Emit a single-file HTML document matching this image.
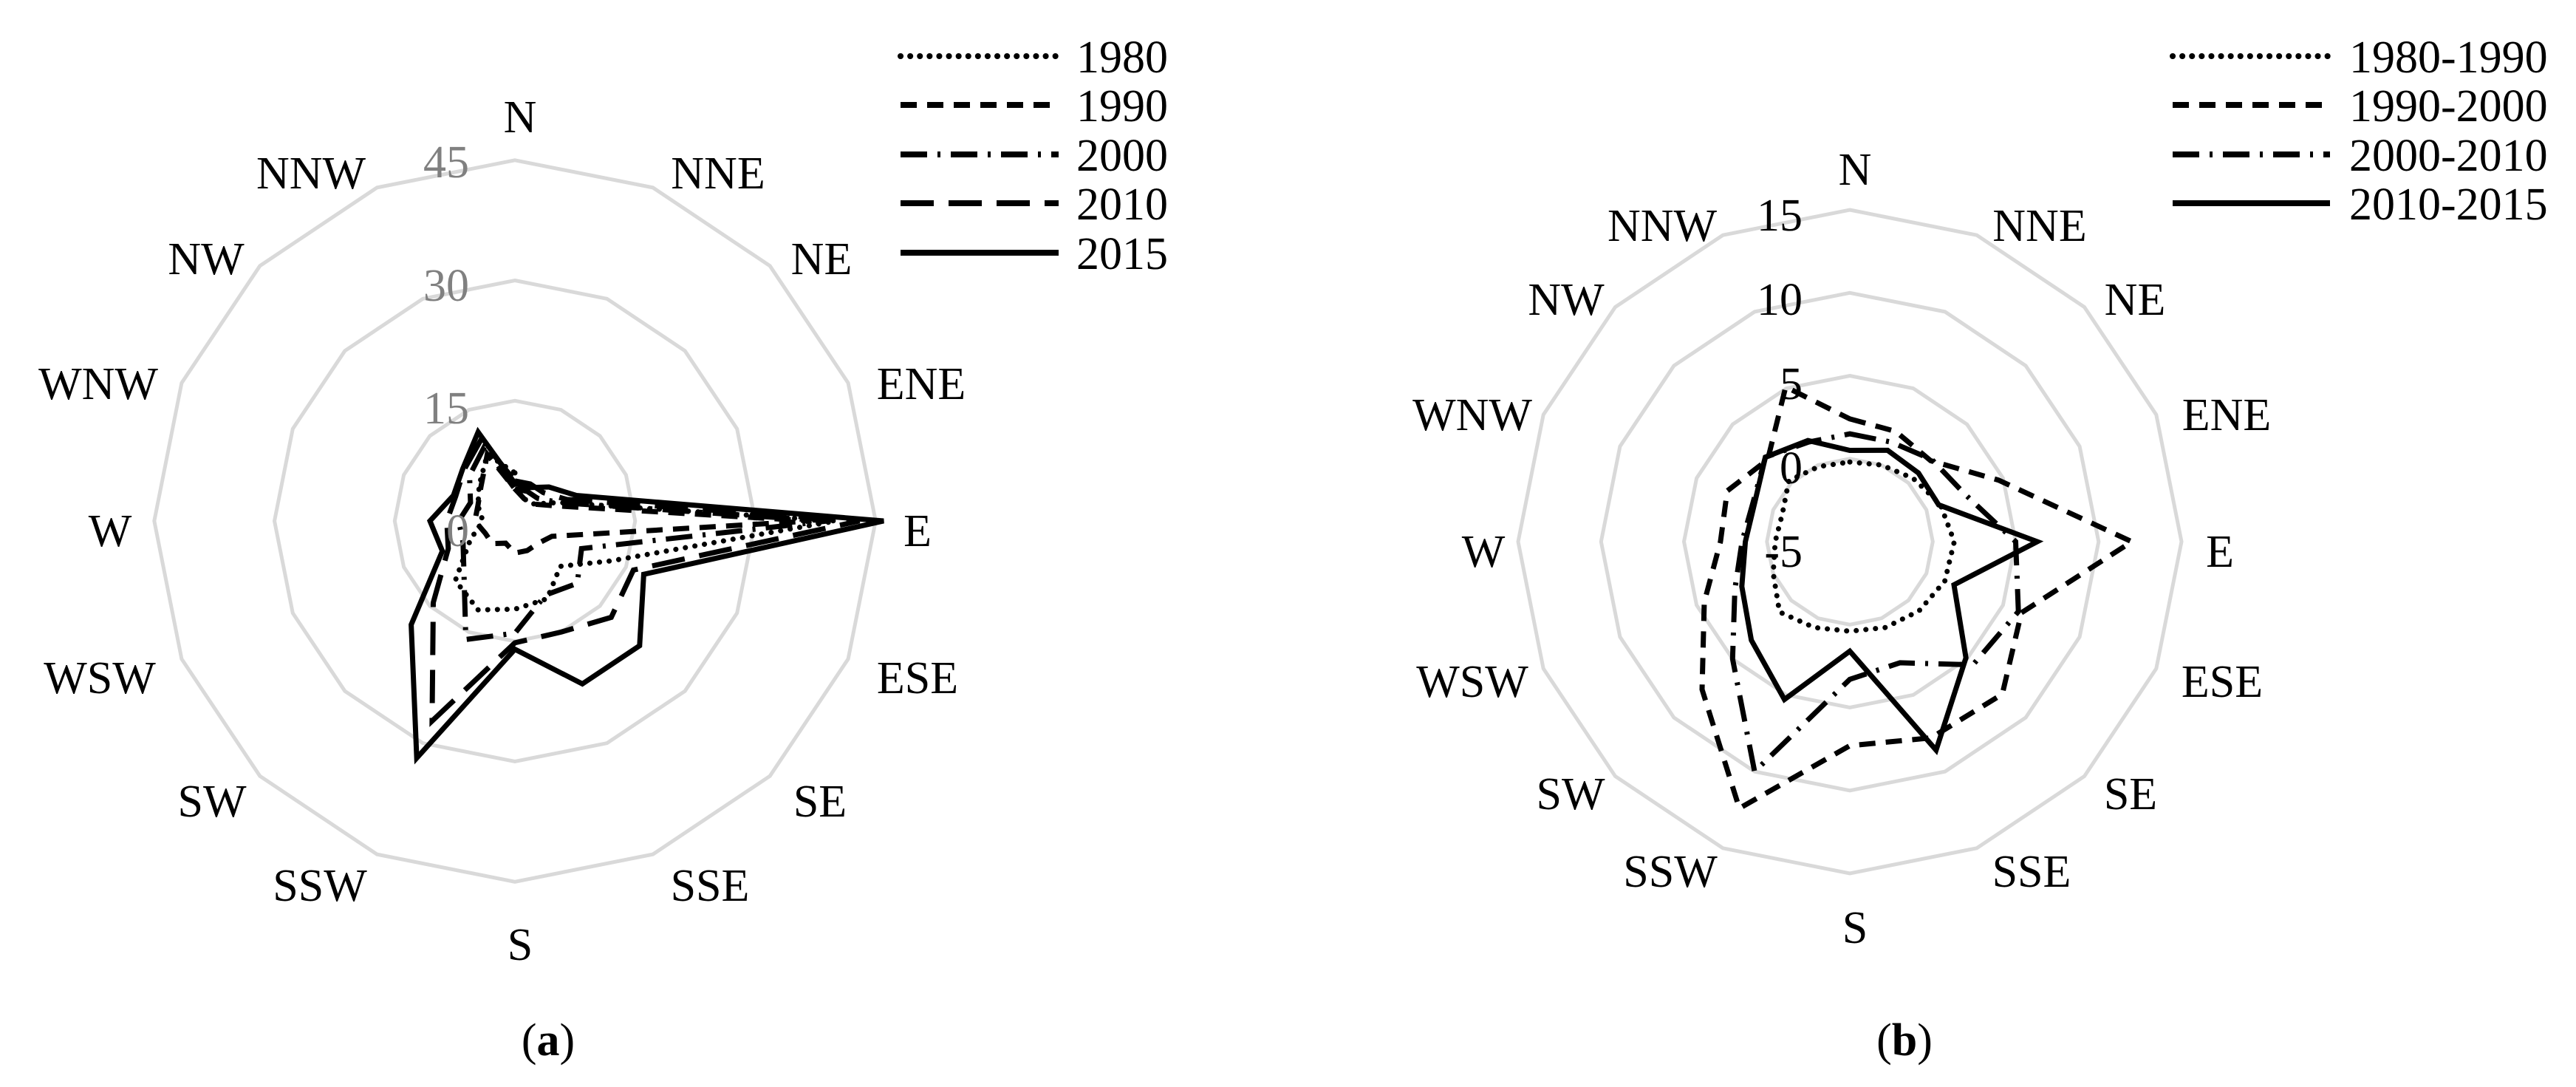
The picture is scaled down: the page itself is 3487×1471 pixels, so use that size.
<!DOCTYPE html>
<html><head><meta charset="utf-8"><style>
html,body{margin:0;padding:0;background:#fff;}
svg{display:block;}
text{font-family:"Liberation Serif",serif;font-size:62px;fill:#000;}
</style></head><body>
<svg id="s" width="3487" height="1471" viewBox="0 0 3487 1471" xmlns="http://www.w3.org/2000/svg">
<g id="g"></g>
<text x="742" y="1428" text-anchor="middle">(<tspan font-weight="bold">a</tspan>)</text>
<text x="2578" y="1428" text-anchor="middle">(<tspan font-weight="bold">b</tspan>)</text>
</svg>
<script>
const g=document.getElementById('g');
let h='';
function poly(cx,cy,rf,vals,style){
  let p=[];
  for(let k=0;k<16;k++){const a=k*Math.PI/8;const r=rf(vals[k]);p.push((cx+r*Math.sin(a)).toFixed(1)+','+(cy-r*Math.cos(a)).toFixed(1));}
  h+=`<polygon points="${p.join(' ')}" fill="none" stroke-linejoin="miter" ${style}/>`;
}
const dirs=['N','NNE','NE','ENE','E','ESE','SE','SSE','S','SSW','SW','WSW','W','WNW','NW','NNW'];
const ring='stroke="#d9d9d9" stroke-width="5"';
const sty={
 dot:'stroke="#000" stroke-width="7" stroke-dasharray="0.1,13" stroke-linecap="round"',
 dash:'stroke="#000" stroke-width="7" stroke-dasharray="22,14"',
 dd:'stroke="#000" stroke-width="7" stroke-dasharray="36,14,4,14"',
 ld:'stroke="#000" stroke-width="7" stroke-dasharray="45,20"',
 sol:'stroke="#000" stroke-width="7"'
};
// chart a
{
 const cx=697,cy=705,rf=v=>10.85*v;
 [15,30,45].forEach(v=>poly(cx,cy,rf,Array(16).fill(v),ring));
 poly(cx,cy,rf,[6,3,3,6,40,13,8,10.5,11,12,10.5,6,4,5,6.3,9],sty.dot);
 poly(cx,cy,rf,[4,3,3,5,37,5,4,4,4,3,4,4,5,5,6,9],sty.dash);
 poly(cx,cy,rf,[4,4,4,6,39,9,11,10,14,16,9,7,7,6,8,10],sty.dd);
 poly(cx,cy,rf,[5,5,5,7,43,16,17,15,15.2,27,14.4,9,8.5,8,9,11],sty.ld);
 poly(cx,cy,rf,[4.7,4.5,6,8.3,46,17.4,22,22,16,32,18.3,9.8,10.6,8.3,9.2,12],sty.sol);
 const lp=[[704,157],[972,233],[1112,349],[1247,518],[1242,717],[1242,916],[1110,1083],[961,1197],[704,1277],[433,1197],[287,1083],[135,916],[149,717],[133,518],[279,349],[421,233]];
 lp.forEach((q,i)=>h+=`<text x="${q[0]}" y="${q[1]+22}" text-anchor="middle">${dirs[i]}</text>`);
 [['45',218],['30',385],['15',551],['0',717]].forEach(t=>h+=`<text x="635" y="${t[1]+22}" text-anchor="end" style="fill:#808080">${t[0]}</text>`);
 const ly=[76,142,209,275,342],ls=[sty.dot,sty.dash,sty.dd,sty.ld,sty.sol],lt=['1980','1990','2000','2010','2015'];
 ly.forEach((y,i)=>{h+=`<line x1="1219" y1="${y}" x2="1433" y2="${y}" ${ls[i].replace('stroke-width="7"','stroke-width="8"')}/>`;h+=`<text x="1457" y="${y+22}">${lt[i]}</text>`;});
}
// chart b
{
 const cx=2504,cy=733,rf=v=>22.45*(v+5);
 [0,5,10,15].forEach(v=>poly(cx,cy,rf,Array(16).fill(v),ring));
 poly(cx,cy,rf,[-0.2,0,0.4,0.9,1.3,1.2,0.9,0.6,0.4,0.6,1,0,-0.5,-0.6,0.2,-0.1],sty.dot);
 poly(cx,cy,rf,[2.4,2.2,1.9,4.7,12,6.2,8,7.8,7.3,12.4,7.6,4.5,2.8,3,2,5.1],sty.dash);
 poly(cx,cy,rf,[1.5,1.5,2,2.5,5,6,5.5,2.9,3.3,10,5,2.5,1.5,1.3,2.2,1.5],sty.dd);
 poly(cx,cy,rf,[0.5,0.96,0.85,0.8,6.3,1.8,4.9,8.6,1.6,5.3,3.4,2.05,1.3,1.2,2.2,1.6],sty.sol);
 const lp=[[2511,228],[2761,304],[2890,404],[3014,560],[3005,745],[3008,921],[2884,1073],[2750,1178],[2511,1254],[2261,1178],[2126,1073],[1993,921],[2008,745],[1993,560],[2120,404],[2250,304]];
 lp.forEach((q,i)=>h+=`<text x="${q[0]}" y="${q[1]+22}" text-anchor="middle">${dirs[i]}</text>`);
 [['15',290],['10',404],['5',518],['0',632],['-5',745]].forEach(t=>h+=`<text x="2440" y="${t[1]+22}" text-anchor="end">${t[0]}</text>`);
 const ly=[76,142,209,275],ls=[sty.dot,sty.dash,sty.dd,sty.sol],lt=['1980-1990','1990-2000','2000-2010','2010-2015'];
 ly.forEach((y,i)=>{h+=`<line x1="2941" y1="${y}" x2="3154" y2="${y}" ${ls[i].replace('stroke-width="7"','stroke-width="8"')}/>`;h+=`<text x="3180" y="${y+22}">${lt[i]}</text>`;});
}
g.innerHTML=h;
</script>
</body></html>
